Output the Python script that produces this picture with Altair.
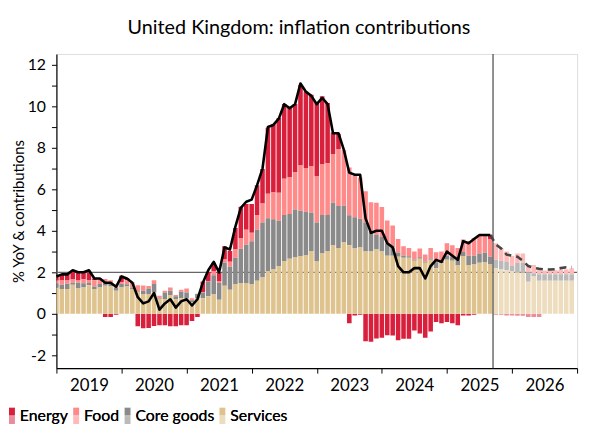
import altair as alt
import pandas as pd

# month index: 0 = Jan 2019 ... 95 = Dec 2026 ; actual data up to index 80 (Sep 2025)
energy = [
    0.2, 0.3, 0.3, 0.4, 0.4, 0.3, 0.35, 0.08, 0.0, -0.16, -0.16, -0.05,
    0.3, 0.1, 0.0, -0.6, -0.7, -0.68, -0.59, -0.55, -0.55, -0.6, -0.6, -0.55,
    -0.55, -0.35, -0.15, 0.5, 0.45, 0.4, 0.4, 0.63, 0.51, 1.03, 1.51, 1.24,
    1.39, 1.43, 1.66, 3.18, 3.29, 3.61, 3.6, 3.33, 3.28, 3.89, 3.68, 3.46,
    3.54, 3.29, 2.91, 1.03, 0.74, 0.0, -0.45, -0.08, -0.05, -1.32, -1.35, -1.19,
    -1.16, -1.03, -1.05, -1.27, -1.2, -1.2, -0.8, -0.95, -1.16, -0.85, -0.4, -0.45,
    -0.4, -0.45, -0.55, -0.08, -0.08, -0.05, 0.02, 0.05, 0.2, -0.05, -0.05, -0.08,
    -0.08, -0.1, -0.1, -0.15, -0.15, -0.15, 0.0, 0.0, 0.0, 0.0, 0.0, 0.0,
]
food = [
    0.15, 0.2, 0.15, 0.15, 0.1, 0.2, 0.15, 0.3, 0.3, 0.2, 0.15, 0.15,
    0.1, 0.2, 0.25, 0.3, 0.25, 0.12, 0.19, 0.1, 0.08, 0.16, 0.06, 0.1,
    0.19, 0.1, 0.02, 0.02, 0.02, 0.2, 0.1, 0.16, 0.24, 0.4, 0.52, 0.72,
    0.41, 0.71, 0.92, 1.19, 1.28, 1.35, 1.75, 1.78, 1.8, 2.17, 2.11, 2.23,
    2.22, 2.43, 2.49, 2.35, 2.75, 2.68, 2.3, 1.99, 1.99, 1.5, 1.43, 1.54,
    1.45, 1.1, 1.05, 0.65, 0.45, 0.4, 0.4, 0.42, 0.35, 0.5, 0.48, 0.5,
    0.6, 0.55, 0.47, 0.6, 0.7, 0.85, 0.86, 0.79, 0.85, 0.8, 0.63, 0.5,
    0.48, 0.45, 0.45, 0.35, 0.4, 0.2, 0.18, 0.18, 0.2, 0.22, 0.24, 0.28,
]
core_goods = [
    0.2, 0.2, 0.25, 0.1, 0.28, 0.2, 0.1, 0.13, 0.16, 0.13, 0.15, 0.15,
    0.16, 0.1, 0.08, 0.05, 0.16, 0.27, 0.4, 0.05, 0.32, 0.21, 0.13, 0.31,
    0.28, 0.1, 0.2, 0.28, 0.7, 0.91, 0.8, 1.11, 1.11, 1.27, 1.65, 1.85,
    2.08, 2.46, 2.65, 2.54, 2.42, 2.18, 2.22, 2.16, 2.32, 2.19, 2.11, 1.85,
    1.86, 1.86, 1.74, 2.06, 2.02, 1.77, 1.45, 1.5, 1.38, 1.4, 0.95, 0.71,
    0.7, 0.6, 0.4, 0.2, 0.1, 0.07, 0.05, 0.08, 0.05, 0.07, 0.28, 0.05,
    0.2, 0.2, 0.37, 0.2, 0.45, 0.42, 0.44, 0.44, 0.37, 0.4, 0.4, 0.4,
    0.24, 0.45, 0.48, 0.45, 0.15, 0.32, 0.32, 0.32, 0.31, 0.31, 0.32, 0.32,
]
services = [
    1.25, 1.2, 1.2, 1.4, 1.22, 1.27, 1.38, 1.19, 1.27, 1.35, 1.32, 1.11,
    1.27, 1.32, 1.19, 1.03, 0.95, 0.95, 1.03, 0.72, 0.71, 0.9, 0.71, 0.75,
    0.75, 0.55, 0.75, 0.75, 0.84, 0.95, 0.68, 1.35, 1.16, 1.43, 1.48, 1.48,
    1.41, 1.59, 1.75, 2.06, 2.14, 2.3, 2.54, 2.65, 2.71, 2.78, 2.81, 3.02,
    2.54, 2.9, 3.02, 3.29, 3.17, 3.44, 3.3, 3.15, 3.2, 3.0, 3.0, 3.1,
    3.0, 2.8, 2.8, 2.75, 2.7, 2.7, 2.55, 2.65, 2.46, 2.6, 2.2, 2.45,
    2.6, 2.55, 2.33, 2.78, 2.35, 2.38, 2.46, 2.5, 2.38, 2.2, 2.14, 2.1,
    2.06, 2.0, 1.98, 1.54, 1.8, 1.59, 1.59, 1.59, 1.59, 1.59, 1.59, 1.59,
]
headline_actual = [
    1.8, 1.9, 1.9, 2.1, 2.0, 2.0, 2.1, 1.7, 1.7, 1.5, 1.5, 1.3,
    1.8, 1.7, 1.5, 0.8, 0.5, 0.6, 1.0, 0.2, 0.5, 0.7, 0.3, 0.6,
    0.7, 0.4, 0.7, 1.5, 2.1, 2.5, 2.0, 3.2, 3.1, 4.2, 5.1, 5.4,
    5.5, 6.2, 7.0, 9.0, 9.1, 9.4, 10.1, 9.9, 10.1, 11.1, 10.7, 10.5,
    10.1, 10.4, 10.1, 8.7, 8.7, 7.9, 6.8, 6.7, 6.7, 4.6, 3.9, 4.0,
    4.0, 3.4, 3.2, 2.3, 2.0, 2.0, 2.2, 2.2, 1.7, 2.3, 2.6, 2.5,
    3.0, 2.8, 2.6, 3.5, 3.4, 3.6, 3.8, 3.8, 3.8,
]
headline_forecast = [
    3.8, 3.35, 3.15, 2.85, 2.8, 2.75, 2.55, 2.3, 2.22, 2.17, 2.14, 2.13,
    2.15, 2.2, 2.24, 2.25,
]
series = ["Energy", "Food", "Core goods", "Services"]
actual_colors = ["#d81f3c", "#ff8a8a", "#8a8a8a", "#dfc38f"]
forecast_colors = ["#ea8c99", "#ffbaba", "#bababa", "#eddcbd"]
stack_rank = [3, 2, 1, 0]
year_start = 2019
n_months = 96
last_actual = 80
target_level = 2
forecast_marker = 80.5

rows = []
for m in range(n_months):
    for s, vals, r in zip(series, [energy, food, core_goods, services], stack_rank):
        rows.append({"m": m, "series": s, "value": vals[m], "rank": r,
                     "phase": "actual" if m <= last_actual else "forecast"})
bars_df = pd.DataFrame(rows)
line_a = pd.DataFrame({"m": list(range(len(headline_actual))), "v": headline_actual})
line_f = pd.DataFrame({"m": list(range(last_actual, last_actual + len(headline_forecast))),
                       "v": headline_forecast})
hrule_df = pd.DataFrame({"v": [target_level]})
vrule_df = pd.DataFrame({"m": [forecast_marker]})

FONT = "Lato"
x_scale = alt.Scale(domain=[0, n_months], nice=False, zero=False)
y_scale = alt.Scale(domain=[-2.62, 12.52], nice=False, zero=False)
x_axis = alt.Axis(values=list(range(0, n_months + 1, 12)),
                  labelExpr=f"datum.value < {n_months} ? {year_start} + datum.value / 12 : ''",
                  labelOffset=32.9, labelFlush=False, labelOverlap=False, title=None,
                  grid=False, tickSize=5, tickColor="black", domainColor="black",
                  domainWidth=1.2, labelFontSize=17, labelColor="black", labelPadding=5,
                  labelFont=FONT)
y_axis = alt.Axis(values=list(range(-2, 13)),
                  labelExpr="datum.value % 2 == 0 ? datum.value : ''",
                  title="% YoY & contributions", titleFontSize=15, titleFontWeight="normal",
                  titleFont=FONT, titleColor="black", titlePadding=1,
                  grid=False, tickSize=5, tickColor="black", domainColor="black",
                  domainWidth=1.2, labelFontSize=16, labelColor="black", labelPadding=6,
                  labelFont=FONT)

def legend(path):
    return alt.Legend(orient="none", legendX=-53, legendY=358, direction="horizontal",
                      title=None, symbolType=path, symbolSize=36, symbolStrokeWidth=0,
                      symbolOpacity=1, labelFontSize=16, labelFont=FONT, labelColor="black",
                      labelOffset=0, columnPadding=0, padding=0, labelLimit=300)

hrule = alt.Chart(hrule_df).mark_rule(color="#666666", strokeWidth=1.3).encode(
    y=alt.Y("v:Q", scale=y_scale, axis=y_axis))

def bar_layer(phase, colors, path):
    return alt.Chart(bars_df).transform_filter(
        alt.datum.phase == phase
    ).transform_stack(
        stack="value", groupby=["m"], as_=["y0", "y1"],
        sort=[alt.SortField("rank", order="ascending")], offset="zero"
    ).transform_calculate(
        x0="datum.m - 0.42", x1="datum.m + 0.42"
    ).mark_bar(clip=True).encode(
        x=alt.X("x0:Q", scale=x_scale, axis=x_axis),
        x2="x1:Q",
        y=alt.Y("y0:Q", scale=y_scale, axis=y_axis),
        y2="y1:Q",
        color=alt.Color("series:N", scale=alt.Scale(domain=series, range=colors),
                        legend=legend(path)),
    )

bars_a = bar_layer("actual", actual_colors, "M-1,-2.67H1V0H-1Z")
bars_f = bar_layer("forecast", forecast_colors, "M-1,0H1V2.67H-1Z")

vrule = alt.Chart(vrule_df).mark_rule(color="#555555", strokeWidth=1.3).encode(
    x=alt.X("m:Q", scale=x_scale, axis=x_axis))

la = alt.Chart(line_a).mark_line(color="black", strokeWidth=2.6, strokeJoin="round").encode(
    x=alt.X("m:Q", scale=x_scale, axis=x_axis), y=alt.Y("v:Q", scale=y_scale, axis=y_axis))
lf = alt.Chart(line_f).mark_line(color="#444444", strokeWidth=2.6, strokeDash=[7, 5]).encode(
    x=alt.X("m:Q", scale=x_scale, axis=x_axis), y=alt.Y("v:Q", scale=y_scale, axis=y_axis))

chart = alt.layer(hrule, bars_a, bars_f, vrule, lf, la).resolve_scale(
    color="independent"
).properties(
    width=527, height=318,
    padding={"left": 49, "top": 44, "right": 8, "bottom": 55},
    autosize=alt.AutoSizeParams(type="none"),
    title=alt.TitleParams("United Kingdom: inflation contributions", fontSize=20,
                          fontWeight="normal", font=FONT, color="black",
                          anchor="middle", frame="group", offset=16, dx=-18),
).configure_view(stroke=None).configure(font=FONT)

chart.save("out.html", embed_options={"renderer": "svg", "actions": False})
